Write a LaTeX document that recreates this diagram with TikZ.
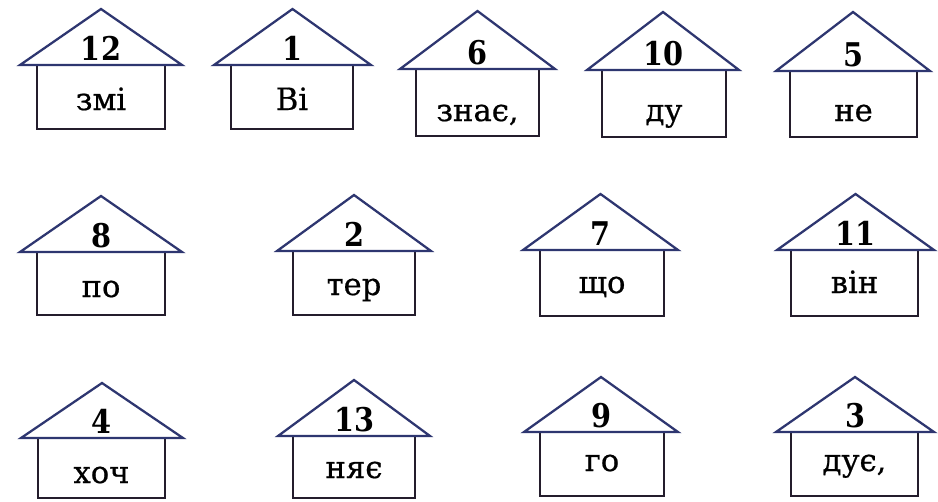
\documentclass[tikz,border=0pt]{standalone}
\usepackage{fontspec}
\setmainfont{DejaVu Serif}
\newfontfamily\numfont[FakeStretch=0.88]{DejaVu Serif Bold}
\newfontfamily\wordfont[FakeBold=0.6]{DejaVu Serif}
\definecolor{roofc}{HTML}{2E3670}
\definecolor{bodyc}{HTML}{241D2C}
\tikzset{
  roofline/.style={draw=roofc, line width=1.7pt, line join=miter},
  bodyline/.style={draw=bodyc, line width=1.6pt},
  numtxt/.style={anchor=base, inner sep=0pt, font=\numfont\fontsize{24.5}{26}\selectfont},
  wordtxt/.style={anchor=base, inner sep=0pt, font=\wordfont\fontsize{23}{24}\selectfont}
}
\begin{document}
\begin{tikzpicture}[x=0.75pt, y=-0.75pt]
\useasboundingbox[fill=white] (0,0) rectangle (938,501);
\foreach \hn/\rl/\rr/\ay/\by/\bl/\br/\bb/\hnum/\hwrd/\wb in {
  a/20/182/9/65/37/165/129/12/змі/110,
  b/214/371/9/65/231/353/129/1/Ві/110,
  c/400/555/11/69/416/539/136/6/{знає,}/121,
  d/587/739/12/70/602/726/137/10/ду/121,
  e/776/930/12/71/790/917/137/5/не/121,
  f/20/182/196/252/37/165/315/8/по/297,
  g/277/431/195/251/293/415/315/2/тер/295,
  h/523/678/194/250/540/664/316/7/що/293,
  i/777/934/194/250/791/918/316/11/він/293,
  j/21/183/383/438/38/165/498/4/хоч/483,
  k/278/430/380/436/293/415/498/13/няє/478,
  l/524/678/377/432/540/664/496/9/го/471,
  m/776/934/377/432/791/918/496/3/{дує,}/471}{
  \draw[bodyline] (\bl,\by) -- (\bl,\bb) -- (\br,\bb) -- (\br,\by);
  \draw[roofline] (\rl,\by) -- ({(\rl+\rr)/2},\ay) -- (\rr,\by) -- cycle;
  \node[numtxt] (num\hn) at ({(\rl+\rr)/2},{\by-5}) {\hnum};
  \node[wordtxt] (word\hn) at ({(\bl+\br)/2},\wb) {\hwrd};
}
\end{tikzpicture}
\end{document}
